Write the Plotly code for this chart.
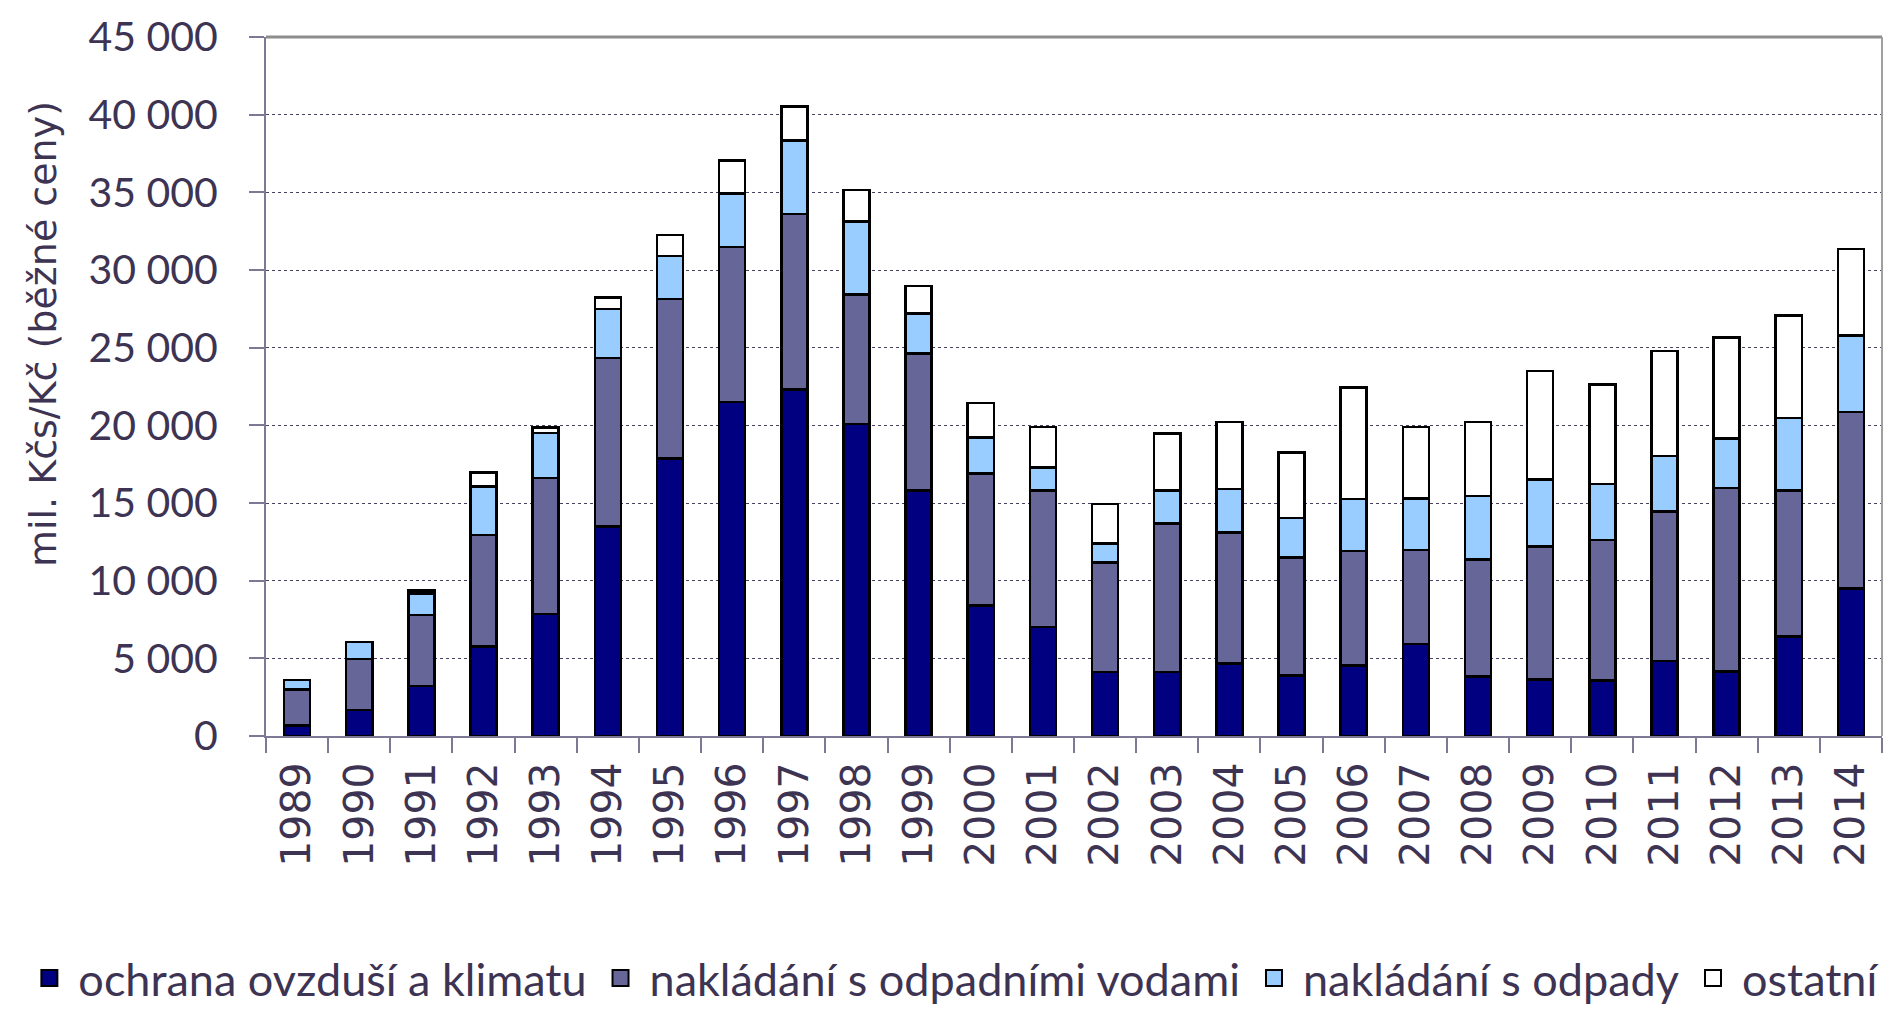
import plotly.graph_objects as go

years = [str(y) for y in range(1989, 2015)]

ovzdusi = [670, 1690, 3210, 5750, 7870, 13490, 17870, 21490, 22320, 20100, 15790, 8400, 7020,
           4130, 4130, 4660, 3900, 4550, 5910, 3830, 3630, 3560, 4830, 4160, 6400, 9490]
odpadni_vody = [2310, 3270, 4570, 7200, 8730, 10850, 10260, 10000, 11280, 8330, 8830, 8500, 8800,
                7050, 9540, 8430, 7590, 7360, 6070, 7530, 8560, 9050, 9620, 11800, 9390, 11360]
odpady = [620, 1090, 1390, 3120, 2910, 3150, 2770, 3430, 4740, 4700, 2590, 2330, 1480,
          1220, 2120, 2800, 2550, 3350, 3310, 4080, 4330, 3610, 3590, 3190, 4680, 4940]
ostatni = [0, 0, 200, 880, 360, 750, 1340, 2130, 2200, 2020, 1750, 2200, 2590,
           2520, 3700, 4320, 4210, 7190, 4600, 4790, 6970, 6420, 6750, 6490, 6600, 5570]

series_names = ["ochrana ovzduší a klimatu", "nakládání s odpadními vodami",
                "nakládání s odpady", "ostatní"]
series_values = [ovzdusi, odpadni_vody, odpady, ostatni]
series_colors = ["#000080", "#666699", "#99CCFF", "#FFFFFF"]

y_ticks = list(range(0, 45001, 5000))
y_title = "mil. Kčs/Kč (běžné ceny)"

text_color = "#3d3352"

fig = go.Figure()
for name, vals, col in zip(series_names, series_values, series_colors):
    fig.add_trace(go.Bar(
        x=years, y=vals, name=name, legendgroup=name, showlegend=False,
        marker=dict(color=col, line=dict(color="#000000", width=2.5)),
    ))
# legend entries (larger square swatches)
for name, col in zip(series_names, series_colors):
    fig.add_trace(go.Scatter(
        x=[None], y=[None], mode="markers", name=name, legendgroup=name,
        marker=dict(symbol="square", size=16, color=col,
                    line=dict(color="#000000", width=2)),
    ))

fig.update_layout(
    barmode="stack",
    bargap=0.58,
    width=1899, height=1018,
    margin=dict(l=255, r=25, t=29, b=282),
    paper_bgcolor="white", plot_bgcolor="white",
    separators=", ",
    showlegend=True,
    legend=dict(
        orientation="h", x=-0.152, xanchor="left", y=-0.398, yanchor="bottom",
        font=dict(family="Lato", size=45, color=text_color),
        traceorder="normal", itemsizing="trace", itemwidth=48,
    ),
    xaxis=dict(
        type="category", tickangle=-90, automargin=False,
        tickfont=dict(family="DejaVu Sans", size=41, color=text_color),
        showline=True, linecolor="#7f7895", linewidth=2,
        ticks="outside", ticklen=15, tickcolor="#7f7895", tickwidth=2,
        tickson="boundaries", showgrid=False,
        ticklabelstandoff=8, ticklabeloverflow="allow",
    ),
    yaxis=dict(
        range=[0, 45000], tickvals=y_ticks, tickformat=",d", automargin=False,
        tickfont=dict(family="Lato", size=41, color=text_color),
        showline=True, linecolor="#7f7895", linewidth=2,
        ticks="outside", ticklen=15, tickcolor="#7f7895", tickwidth=2,
        showgrid=True, gridcolor="#4a4060", gridwidth=1, griddash="dot",
        ticklabelstandoff=23, zeroline=False, ticklabeloverflow="allow",
    ),
    annotations=[dict(
        text=y_title, xref="paper", yref="paper", x=-0.138, y=0.575,
        xanchor="center", yanchor="middle", textangle=-90, showarrow=False,
        font=dict(family="DejaVu Sans", size=38, color=text_color),
    )],
    shapes=[
        dict(type="line", xref="paper", yref="paper", x0=0, x1=1, y0=1, y1=1,
             line=dict(color="#8c8c8c", width=3)),
        dict(type="line", xref="paper", yref="paper", x0=1, x1=1, y0=0, y1=1,
             line=dict(color="#a0a0a0", width=2)),
    ],
)

fig.write_html("out.html")
